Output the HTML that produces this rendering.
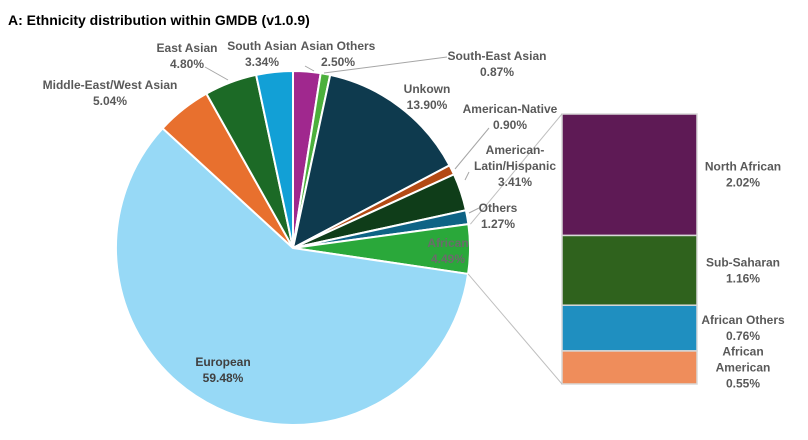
<!DOCTYPE html>
<html><head><meta charset="utf-8"><style>
body{margin:0;background:#fff;}
svg{display:block;font-family:"Liberation Sans",sans-serif;font-weight:bold;}
</style></head><body>
<svg id="c" width="808" height="440">
<text x="8" y="25" font-size="14" fill="#000">A: Ethnicity distribution within GMDB (v1.0.9)</text>
<g id="pie"></g>
<g id="bar"></g>
<g id="lbl"></g>
</svg>
<script>
const categories=["Asian Others","South-East Asian","Unkown","American-Native","American-Latin/Hispanic","Others","African","European","Middle-East/West Asian","East Asian","South Asian"];
const values=[2.50,0.87,13.90,0.90,3.41,1.27,4.49,59.48,5.04,4.80,3.34];
const colors=["#a0288e","#4cb03c","#0e3a4e","#b34a14","#0f3d19","#0e6385","#2aa83a","#97d9f6","#e8702e","#1c6a26","#12a0d6"];
const subCategories=["North African","Sub-Saharan","African Others","African American"];
const subValues=[2.02,1.16,0.76,0.55];
const subColors=["#5e1a55","#2f621d","#1f8fc0","#ef8d5b"];
const NS="http://www.w3.org/2000/svg";
const cx=293,cy=248,r=177;
function mk(t,a,p){const e=document.createElementNS(NS,t);for(const k in a)e.setAttribute(k,a[k]);p.appendChild(e);return e;}
function pt(deg,rr){const a=(deg-90)*Math.PI/180;return [cx+rr*Math.cos(a),cy+rr*Math.sin(a)];}
const total=values.reduce((a,b)=>a+b,0);
const pie=document.getElementById('pie');
let acc=0;const angs=[];
values.forEach((v,i)=>{
 const a0=acc/total*360,a1=(acc+v)/total*360;acc+=v;angs.push([a0,a1]);
 const p0=pt(a0,r),p1=pt(a1,r);
 const e=mk('path',{d:`M${cx},${cy}L${p0[0]},${p0[1]}A${r},${r} 0 ${a1-a0>180?1:0} 1 ${p1[0]},${p1[1]}Z`,fill:colors[i],stroke:'#fff','stroke-width':2},pie);
 
 
});
const bar=document.getElementById('bar');
const bx=562,bw=135,btop=114,bbot=384;
const subTot=subValues.reduce((a,b)=>a+b,0);
let y=btop;const segs=[];
subValues.forEach((v,i)=>{
 const h=v/subTot*(bbot-btop);
 const e=mk('rect',{x:bx,y:y,width:bw,height:h,fill:subColors[i],stroke:'#d8d8d8','stroke-width':1.5},bar);
 
 
 segs.push([y,h]);y+=h;
});
const af=angs[6];const pa=pt(af[0],r),pb=pt(af[1],r);
const l1=mk('line',{x1:pa[0]+2,y1:pa[1],x2:bx,y2:btop,stroke:'#bfbfbf','stroke-width':1},bar);

const l2=mk('line',{x1:pb[0],y1:pb[1],x2:bx,y2:bbot,stroke:'#bfbfbf','stroke-width':1},bar);

const lbl=document.getElementById('lbl');
function txt(lines,x,y0,name,fill){
 const t=mk('text',{x:x,y:y0,'font-size':12,fill:fill||'#595959','text-anchor':'middle'},lbl);
 
 lines.forEach((s,k)=>{const ts=mk('tspan',{x:x,dy:k?16:0},t);ts.textContent=s;});
}
const fmt=v=>v.toFixed(2)+'%';
const pos=[[338,50],[497,60],[427,93],[510,113],[515,154],[498,212],[448,247],[223,366],[110,89],[187,52],[262,50]];
const slug=s=>s.toLowerCase().replace(/[^a-z]+/g,'-');
categories.forEach((c,i)=>{
 let lines=[c,fmt(values[i])];
 if(c==="American-Latin/Hispanic")lines=["American-","Latin/Hispanic",fmt(values[i])];
 txt(lines,pos[i][0],pos[i][1],'label-'+slug(c),(c==="European")?'#404040':(c==="African"?'#6b6b6b':null));
});
const lead=[[305,66,314,71],[324,73,447,57],[455,169,489,128],[465,180,469,172],[469,213,479,208],[205,67,228,80]];
lead.forEach((l,i)=>{const e=mk('polyline',{points:`${l[0]},${l[1]} ${l[2]},${l[3]}`,stroke:'#a6a6a6',fill:'none','stroke-width':1},lbl);
 });
subCategories.forEach((c,i)=>{
 const [yy,h]=segs[i];
 let lines=[c,fmt(subValues[i])];
 if(c==="African American")lines=["African","American",fmt(subValues[i])];
 txt(lines,743,yy+h/2-(lines.length-1)*8+4,'label-'+slug(c));
});
</script>
</body></html>
